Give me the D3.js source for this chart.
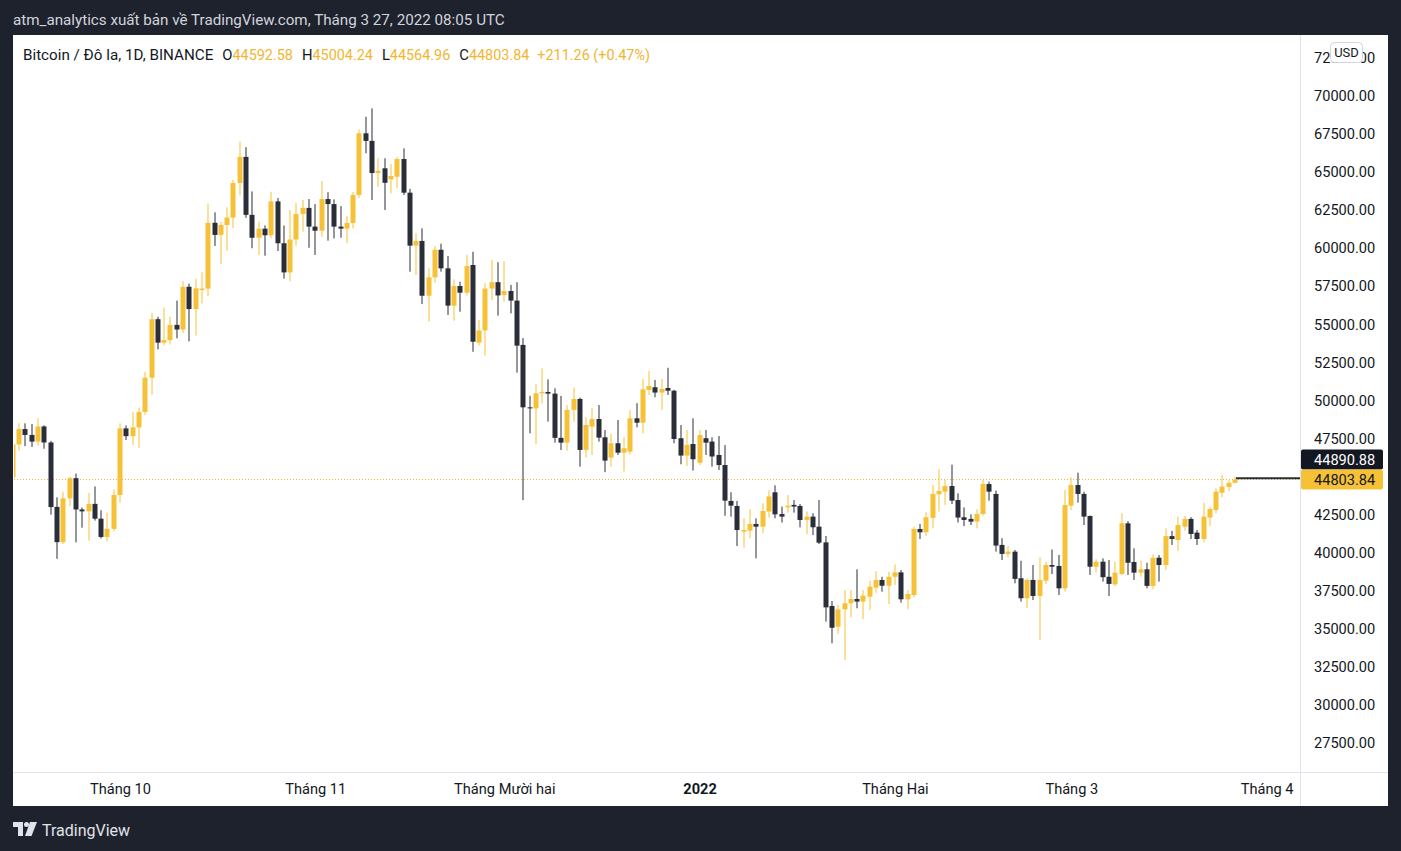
<!DOCTYPE html>
<html><head><meta charset="utf-8">
<script src="https://cdn.jsdelivr.net/npm/d3@7"></script>
<style>
html,body{margin:0;padding:0;background:#1e222d;overflow:hidden}
svg{display:block}
text{font-family:Roboto,"Liberation Sans",sans-serif}
</style></head><body>
<svg id="chart" width="1401" height="851"></svg>
<script>
// ---------------- DATA ----------------
const dates = [
"2021-09-14","2021-09-15","2021-09-16","2021-09-17","2021-09-18","2021-09-19","2021-09-20","2021-09-21","2021-09-22","2021-09-23","2021-09-24","2021-09-25","2021-09-26","2021-09-27","2021-09-28","2021-09-29","2021-09-30",
"2021-10-01","2021-10-02","2021-10-03","2021-10-04","2021-10-05","2021-10-06","2021-10-07","2021-10-08","2021-10-09","2021-10-10","2021-10-11","2021-10-12","2021-10-13","2021-10-14","2021-10-15","2021-10-16","2021-10-17","2021-10-18","2021-10-19","2021-10-20","2021-10-21","2021-10-22","2021-10-23","2021-10-24","2021-10-25","2021-10-26","2021-10-27","2021-10-28","2021-10-29","2021-10-30","2021-10-31",
"2021-11-01","2021-11-02","2021-11-03","2021-11-04","2021-11-05","2021-11-06","2021-11-07","2021-11-08","2021-11-09","2021-11-10","2021-11-11","2021-11-12","2021-11-13","2021-11-14","2021-11-15","2021-11-16","2021-11-17","2021-11-18","2021-11-19","2021-11-20","2021-11-21","2021-11-22","2021-11-23","2021-11-24","2021-11-25","2021-11-26","2021-11-27","2021-11-28","2021-11-29","2021-11-30",
"2021-12-01","2021-12-02","2021-12-03","2021-12-04","2021-12-05","2021-12-06","2021-12-07","2021-12-08","2021-12-09","2021-12-10","2021-12-11","2021-12-12","2021-12-13","2021-12-14","2021-12-15","2021-12-16","2021-12-17","2021-12-18","2021-12-19","2021-12-20","2021-12-21","2021-12-22","2021-12-23","2021-12-24","2021-12-25","2021-12-26","2021-12-27","2021-12-28","2021-12-29","2021-12-30","2021-12-31",
"2022-01-01","2022-01-02","2022-01-03","2022-01-04","2022-01-05","2022-01-06","2022-01-07","2022-01-08","2022-01-09","2022-01-10","2022-01-11","2022-01-12","2022-01-13","2022-01-14","2022-01-15","2022-01-16","2022-01-17","2022-01-18","2022-01-19","2022-01-20","2022-01-21","2022-01-22","2022-01-23","2022-01-24","2022-01-25","2022-01-26","2022-01-27","2022-01-28","2022-01-29","2022-01-30","2022-01-31",
"2022-02-01","2022-02-02","2022-02-03","2022-02-04","2022-02-05","2022-02-06","2022-02-07","2022-02-08","2022-02-09","2022-02-10","2022-02-11","2022-02-12","2022-02-13","2022-02-14","2022-02-15","2022-02-16","2022-02-17","2022-02-18","2022-02-19","2022-02-20","2022-02-21","2022-02-22","2022-02-23","2022-02-24","2022-02-25","2022-02-26","2022-02-27","2022-02-28",
"2022-03-01","2022-03-02","2022-03-03","2022-03-04","2022-03-05","2022-03-06","2022-03-07","2022-03-08","2022-03-09","2022-03-10","2022-03-11","2022-03-12","2022-03-13","2022-03-14","2022-03-15","2022-03-16","2022-03-17","2022-03-18","2022-03-19","2022-03-20","2022-03-21","2022-03-22","2022-03-23","2022-03-24","2022-03-25","2022-03-26","2022-03-27"
];
const opens = [
44960,47111,48121,47737,47299,48293,47241,43010,40694,43574,44896,42840,42716,43208,42235,41035,41564,
43790,48165,47657,48233,49245,51494,55339,53798,53964,54966,54660,57471,56005,57250,57347,61672,60875,61528,62010,64280,66001,62193,60688,61286,60852,63078,60328,58413,60575,62254,62650,
61420,61150,63230,62900,61420,61290,61660,63500,67550,67050,64940,65250,64530,64700,65860,63650,60170,60480,56880,58090,59900,58680,56230,57520,57080,58900,53800,54600,57350,57770,
56930,57190,56560,53650,49550,49480,50470,50560,50450,47545,47230,49380,50100,46750,48280,48780,47580,46250,47190,46570,46640,48830,48540,50690,50870,50520,50820,50640,47520,46380,47140,
45910,47520,47300,46420,45760,43400,43070,41380,41450,41890,41710,42700,43970,42540,42980,43140,43070,42150,42370,41710,40680,36500,35140,36280,36680,36960,36790,37110,37700,38210,37830,
38420,38710,36940,37220,41560,41340,42290,43840,44010,44380,43460,42330,42220,42040,42540,44510,43860,40510,39920,40070,38320,37010,38210,37160,38160,39190,39130,37660,
43090,44450,43860,42410,39080,39410,38420,37920,38600,41930,39390,38690,38910,37820,39670,39190,41090,40840,41710,42220,41320,40900,42310,42810,43940,44313,44592.58
];
const highs = [
47250,48500,48500,48450,48843,48372,47347,43639,44000,44978,45200,42967,43937,44353,42787,42625,44141,
48495,48359,49228,49529,51887,55750,55500,56100,55500,56561,57839,57680,58000,58420,62933,62360,61718,62695,64486,67000,66639,63732,61747,61500,63710,63293,61496,62499,62980,63170,63230,
62900,64420,63680,63210,62770,62120,63700,67800,68640,69190,65930,65910,65530,66020,66560,63900,60980,61310,58680,60150,60300,59490,57960,57800,59560,59770,55280,57700,59220,59080,
59160,57590,57770,54100,50310,51060,52110,51390,50800,50300,49700,50850,50189,48900,49490,49700,48060,47800,48720,47580,49380,49820,51410,51940,51350,51410,52150,50704,48390,48060,48830,
48060,48060,47580,47670,47070,43970,43400,42260,42860,42260,43250,44100,44430,43030,43790,43460,43200,42700,42590,43460,41100,36830,36570,37550,37550,38910,37550,38160,38790,38420,38750,
39240,38860,37550,41710,41890,42650,44450,45500,44780,45780,43900,42980,42520,42850,44780,44670,44080,40950,40440,40180,39470,38320,39190,39700,39410,40210,39850,44120,
44950,45260,44010,42450,39570,39630,39520,39410,42590,42080,40290,39470,39340,39890,39850,41600,41430,42370,42410,42330,41490,43290,43030,44230,45110,44750,45004.24
];
const lows = [
44750,46700,47000,46950,47035,46829,42500,39600,40565,43069,40676,41646,40800,42111,40932,40753,41410,
43283,47400,47088,46895,49057,50382,53357,53617,53675,54080,54415,53879,54263,56380,56850,60150,58963,59844,61322,63482,62000,60000,59562,59510,60650,59817,58000,57820,60174,61090,60030,
59560,60760,60500,60650,60690,60330,61300,63300,66240,63170,64040,62510,63610,63940,63500,58460,58240,56340,55180,57740,58460,55620,55240,55830,56890,53200,53610,52950,56600,55570,
56490,55720,51830,43450,47840,47120,49810,48610,47230,46750,46700,48610,45650,46250,46420,47300,45290,45650,46420,45330,46460,48240,47840,50360,50210,49380,50360,47190,45810,45700,45400,
45760,46420,45650,45430,42430,42370,40440,40330,40950,39630,41280,42300,42260,41980,42630,42630,41670,41230,41160,40570,35470,34050,34660,32950,35760,36350,35630,36240,37370,37440,36630,
37880,36720,36280,37070,40900,41100,41600,42700,43140,43200,41980,41750,41820,41600,42430,43420,40070,39520,39700,37990,36790,36350,36890,34270,37950,38600,37220,37450,
42800,43290,41820,38540,38700,38100,37160,37820,38540,38540,38210,38430,37660,37600,38100,38860,40510,40130,41450,40900,40510,40680,41750,42590,43650,44040,44564.96
];
const closes = [
47111,48121,47737,47299,48293,47241,42999,40694,43574,44896,42840,42716,43208,42235,41035,41564,43790,
48165,47657,48233,49245,51494,55339,53798,53964,54966,54660,57471,56005,57367,57350,61672,60875,61528,62010,64280,66001,62193,60688,61286,60852,63078,60328,58413,60575,62254,62650,61420,
61150,63230,62900,61420,61290,61660,63500,67550,67050,64940,65090,64300,64745,65860,63650,60170,60480,56880,58090,59900,58680,56230,57520,57080,58830,53860,54600,57350,57770,56900,
57190,56560,53600,49550,49480,50470,50560,50450,47545,47230,49380,50100,46750,48390,48780,47560,46050,47190,46570,46860,48830,48540,50730,50950,50520,50760,50640,47470,46380,47080,46140,
47730,47230,46320,45760,43420,43090,41490,41490,41890,41710,42740,43700,42520,42370,43090,43030,42150,42370,41670,40660,36410,35070,36280,36680,36960,36790,37180,37770,38210,37830,38420,
38710,36940,37290,41560,41340,42330,43860,44050,44380,43420,42310,42150,42040,42540,44510,44010,40470,39920,40070,38280,37010,38210,37160,38210,39190,39080,37660,43130,
44450,43860,42370,39080,39410,38390,37950,38690,41930,39340,38690,38910,37820,39670,39190,41090,40900,41820,42220,41230,40900,42370,42870,44010,44340,44592.58,44803.84
];
// 45000 is hidden behind the last-price labels in the reference
const priceTicks = [27500,30000,32500,35000,37500,40000,42500,47500,50000,52500,55000,57500,60000,62500,65000,67500,70000,72500];
const timeTicks = ["2021-10-01","2021-11-01","2021-12-01","2022-01-01","2022-02-01","2022-03-01","2022-04-01"];
const timeLabels = ["Tháng 10","Tháng 11","Tháng Mười hai","2022","Tháng Hai","Tháng 3","Tháng 4"];
const lastPrice = 44803.84;
const markPrice = 44890.88;
const legendParts = [
  {t:"Bitcoin / Đô la, 1D, BINANCE", c:"dark"},
  {t:"O", c:"dark"},{t:"44592.58", c:"up"},
  {t:"H", c:"dark"},{t:"45004.24", c:"up"},
  {t:"L", c:"dark"},{t:"44564.96", c:"up"},
  {t:"C", c:"dark"},{t:"44803.84", c:"up"},
  {t:"+211.26 (+0.47%)", c:"up"}
];

// ---------------- STYLE ----------------
const BG = "#1e222d", UP = "#f7c137", DOWN = "#2a2e39", TXT = "#131722", GRIDLINE = "#e0e3eb";
const svg = d3.select("#chart");
const parse = d3.utcParse("%Y-%m-%d");

const plot = {left:14, right:1300, top:36, bottom:772};
const x = d3.scaleUtc().domain([parse("2021-10-01"), parse("2022-04-01")]).range([120, 1266.6]);
const y = d3.scaleLinear().domain([27500, 70000]).range([743, 96]);

svg.append("rect").attr("width",1401).attr("height",851).attr("fill",BG);
// header
svg.append("text").attr("x",13).attr("y",24.5).attr("fill","#d1d4dc").attr("font-size",15.2)
  .text("atm_analytics xuất bản về TradingView.com, Tháng 3 27, 2022 08:05 UTC");
// white panel
svg.append("rect").attr("x",13).attr("y",35).attr("width",1375).attr("height",771).attr("fill","#ffffff");

svg.append("defs").append("clipPath").attr("id","clip").append("rect")
  .attr("x",plot.left).attr("y",plot.top).attr("width",plot.right-plot.left).attr("height",plot.bottom-plot.top);

const g = svg.append("g").attr("clip-path","url(#clip)");
const candles = dates.map((d,i)=>({date:parse(d),o:opens[i],h:highs[i],l:lows[i],c:closes[i]}));

// dotted last price line
g.append("line").attr("x1",plot.left).attr("x2",plot.right).attr("y1",y(lastPrice)).attr("y2",y(lastPrice))
  .attr("stroke","#f0b429").attr("stroke-width",1).attr("stroke-dasharray","1,2");

const cg = g.selectAll("g.c").data(candles).join("g").attr("class","c");
cg.append("rect")
  .attr("x",d=>Math.round(x(d.date))-0.5).attr("width",1)
  .attr("y",d=>y(d.h)).attr("height",d=>Math.max(1,y(d.l)-y(d.h)))
  .attr("fill",d=>d.c>=d.o?UP:DOWN);
cg.append("rect")
  .attr("x",d=>Math.round(x(d.date))-2.5).attr("width",5)
  .attr("y",d=>y(Math.max(d.o,d.c))).attr("height",d=>Math.max(1,Math.abs(y(d.o)-y(d.c))))
  .attr("fill",d=>d.c>=d.o?UP:DOWN);

// mark price line
const last = candles[candles.length-1];
svg.append("line").attr("x1",Math.round(x(last.date))+1).attr("x2",plot.right).attr("y1",y(markPrice)).attr("y2",y(markPrice))
  .attr("stroke",DOWN).attr("stroke-width",2);

// separators
svg.append("line").attr("x1",plot.right+0.5).attr("x2",plot.right+0.5).attr("y1",35).attr("y2",806).attr("stroke",GRIDLINE);
svg.append("line").attr("x1",13).attr("x2",1388).attr("y1",plot.bottom+0.5).attr("y2",plot.bottom+0.5).attr("stroke",GRIDLINE);

// price axis
const yAxis = svg.append("g").attr("transform",`translate(${plot.right},0)`)
  .call(d3.axisRight(y).tickValues(priceTicks).tickFormat(d3.format(".2f")).tickSize(0).tickPadding(14));
yAxis.select(".domain").remove();
yAxis.selectAll("text").attr("fill",TXT).attr("font-size",14.6).attr("font-family","Roboto, sans-serif");

// USD box
svg.append("rect").attr("x",1330.5).attr("y",42.5).attr("width",32).attr("height",20).attr("rx",4)
  .attr("fill","#ffffff").attr("stroke","#d1d4dc");
svg.append("text").attr("x",1346.5).attr("y",57).attr("text-anchor","middle").attr("fill",TXT).attr("font-size",13).text("USD");

// price labels
const yl = y(lastPrice);
svg.append("rect").attr("x",1301).attr("y",yl-30).attr("width",82).attr("height",20).attr("rx",2).attr("fill","#131722");
svg.append("text").attr("x",1314).attr("y",yl-14.5).attr("fill","#ffffff").attr("font-size",14.6).text(d3.format(".2f")(markPrice));
svg.append("rect").attr("x",1301).attr("y",yl-10).attr("width",82).attr("height",20).attr("rx",2).attr("fill",UP);
svg.append("text").attr("x",1314).attr("y",yl+5.5).attr("fill",TXT).attr("font-size",14.6).text(d3.format(".2f")(lastPrice));

// time axis
const xAxis = svg.append("g").attr("transform",`translate(0,${plot.bottom})`)
  .call(d3.axisBottom(x).tickValues(timeTicks.map(parse)).tickFormat((d,i)=>timeLabels[i]).tickSize(0).tickPadding(12));
xAxis.select(".domain").remove();
xAxis.selectAll("text").attr("fill",TXT).attr("font-size",14.6).attr("font-family","Roboto, sans-serif")
  .attr("font-weight",(d,i)=>timeLabels[i]==="2022"?"bold":"normal");

// legend
const legend = svg.append("text").attr("x",23).attr("y",59.5).attr("font-size",15.2);
const gaps = [0,9,0,9,0,9,0,9,0,8];
legend.selectAll("tspan").data(legendParts).join("tspan")
  .attr("dx",(d,i)=>gaps[i])
  .attr("font-size",(d,i)=>i===0?15.2:(d.c==="up"?14.4:14.8))
  .attr("fill",d=>d.c==="up"?"#f2b531":TXT).text(d=>d.t);

// TradingView logo
const logo = svg.append("g").attr("fill","#e0e3eb");
logo.append("path").attr("d","M13,822 H23 V836 H18 V827 H13 Z");
logo.append("circle").attr("cx",26.5).attr("cy",824.5).attr("r",2.5);
logo.append("path").attr("d","M30,822 H37 L31.5,836 H25 Z");
svg.append("text").attr("x",42).attr("y",835.5).attr("fill","#e0e3eb").attr("font-size",16).text("TradingView");
</script>
</body></html>
